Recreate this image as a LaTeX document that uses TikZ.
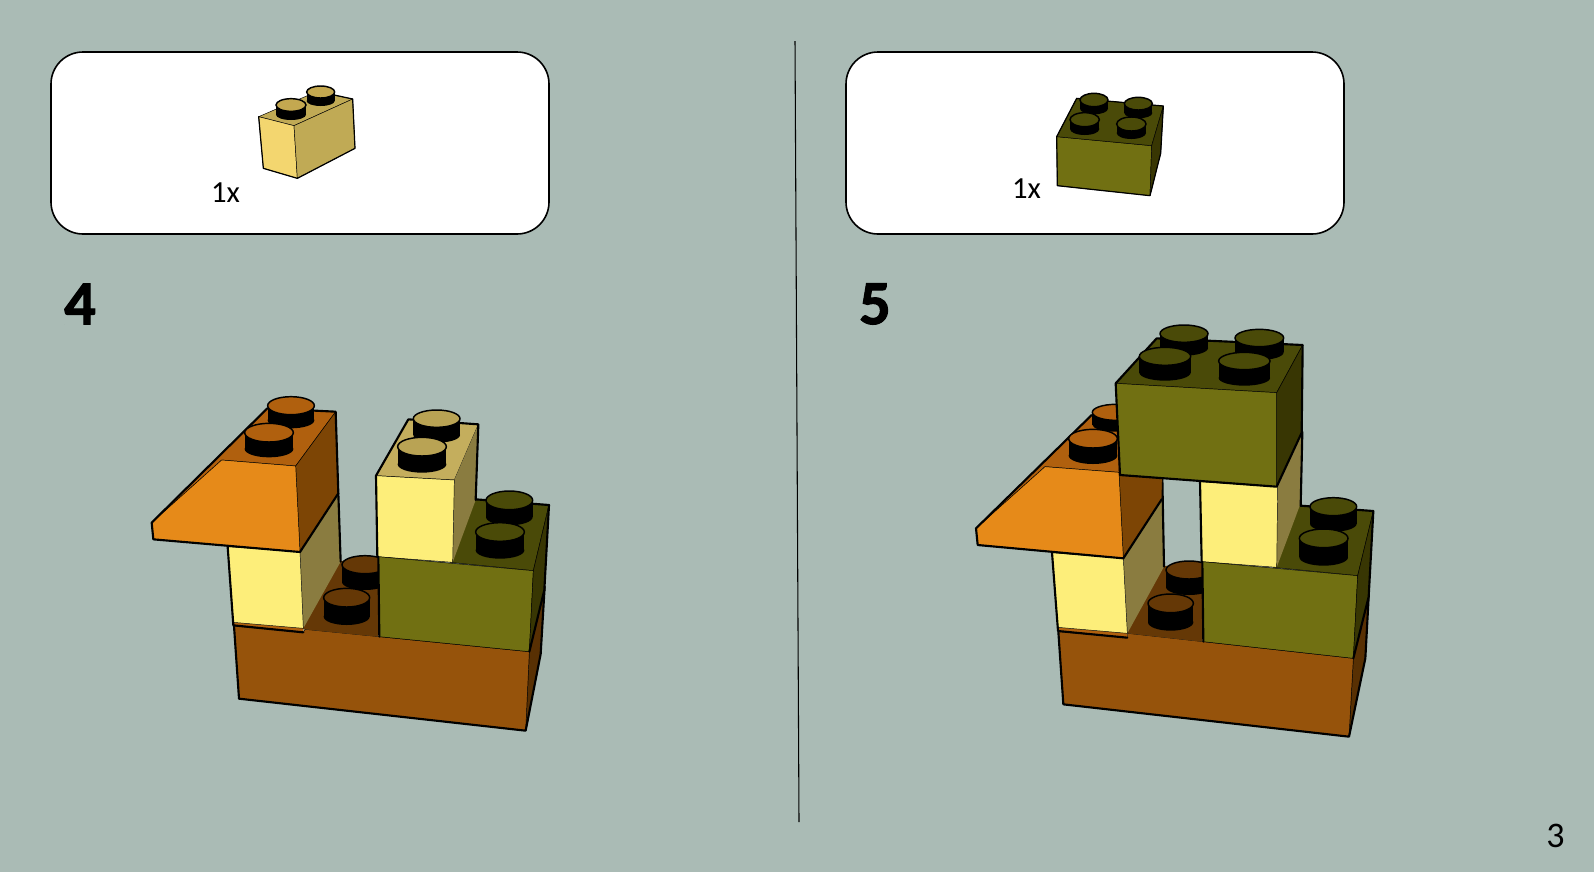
\documentclass[tikz,border=0pt]{standalone}
\usepackage{fontspec}
\setmainfont{Carlito}[BoldFeatures={FakeBold=1.6}]
\definecolor{bgc}{RGB}{170,187,181}
\definecolor{brF}{RGB}{150,83,11}
\definecolor{brS}{RGB}{88,48,3}
\definecolor{brT}{RGB}{101,56,6}
\definecolor{yeF}{RGB}{253,238,122}
\definecolor{yeS}{RGB}{138,124,64}
\definecolor{yeT}{RGB}{196,174,93}
\definecolor{yeD}{RGB}{185,163,84}
\definecolor{orF}{RGB}{230,138,25}
\definecolor{orT}{RGB}{176,96,14}
\definecolor{orS}{RGB}{125,69,5}
\definecolor{grF}{RGB}{113,112,18}
\definecolor{grT}{RGB}{74,74,8}
\definecolor{grS}{RGB}{56,54,3}
\definecolor{saF}{RGB}{243,214,111}
\definecolor{saS}{RGB}{192,170,85}
\definecolor{saD}{RGB}{196,168,80}
\tikzset{
  face/.style={draw=black,line width=.35pt,line join=round},
  edge/.style={draw=black,line width=1.6pt,line join=round,line cap=round},
  thinedge/.style={draw=black,line width=.9pt,line join=round,line cap=round},
  panel/.style={draw=black,line width=1.2pt,fill=white,rounded corners=24pt},
  bignum/.style={font=\fontsize{47}{47}\selectfont\bfseries,inner sep=0pt},
  count/.style={font=\fontsize{23}{23}\selectfont,inner sep=0pt},
}
% cx cy rx ry h colour: the top ellipse grows by 3 (in scope units) and the foot stays put
\newcommand{\stud}[6]{%
  \fill[black] ({#1-#3},{#2+3}) rectangle ({#1+#3},{#2+#5});
  \fill[black] (#1,{#2+#5}) circle [x radius=#3,y radius=#4];
  \draw[black,line width=1.1pt,fill=#6] (#1,{#2+3}) circle [x radius=#3,y radius={#4+3}];
}
\begin{document}
\begin{tikzpicture}[x=.75pt,y=-.75pt]
\useasboundingbox (0,0) rectangle (1594,872);
\fill[bgc] (0,0) rectangle (1594,872);
\draw[black,line width=.8pt] (795,41) -- (799,822);
\node[panel,minimum width=373.5pt,minimum height=136.5pt,inner sep=0pt] (p1) at (300,143) {};
\node[panel,minimum width=373.5pt,minimum height=136.5pt,inner sep=0pt] (p2) at (1095,143) {};
\node[count] (c1) at (225.5,193) {1x};
\node[count] (c2) at (1026.5,188.5) {1x};
\node[bignum] (n4) at (80,304) {4};
\node[bignum] (n5) at (875,304) {5};
\node[font=\fontsize{27}{27}\selectfont,inner sep=0pt] (pg) at (1555.5,836) {3};

% inset 1
\begin{scope}[shift={(40,40)},x=.25pt,y=-.25pt]
\draw[face,fill=saS] (656,230) -- (762,257) -- (938,177) -- (830,155) -- cycle;
\draw[face,fill=saF] (656,230) -- (670,385) -- (772,415) -- (762,257) -- cycle;
\draw[face,fill=saS] (762,257) -- (772,415) -- (945,325) -- (938,177) -- cycle;
\draw[thinedge] (656,230) -- (670,385) -- (772,415) -- (945,325) -- (938,177) -- (860,160);
\stud{842}{153}{42}{15}{30}{saD}
\stud{753}{192}{45}{16}{32}{saD}
\end{scope}

% inset 2
\begin{scope}[shift={(830,40)},x=.25pt,y=-.25pt]
\draw[face,fill=grF] (680,290) -- (682,437) -- (960,467) -- (965,317) -- cycle;
\draw[face,fill=grT] (680,290) -- (965,317) -- (1000,198) -- (740,175) -- cycle;
\draw[face,fill=grS] (965,317) -- (960,467) -- (992,340) -- (1000,198) -- cycle;
\draw[thinedge] (740,175) -- (680,290) -- (682,437) -- (960,467) -- (992,340) -- (1000,198) -- (740,175);
\stud{792}{177}{42}{17}{29}{grT}
\stud{925}{188}{42}{16}{31}{grT}
\stud{764}{236}{44}{18}{31}{grT}
\stud{904}{249}{44}{18}{30}{grT}
\end{scope}

% step 4 model
\begin{scope}[shift={(130,380)},x=.25pt,y=-.25pt]
\draw[face,fill=brS] (1198,815) -- (1187,1052) -- (1232,822) -- (1244,620) -- cycle;
\draw[face,fill=brF] (312,738) -- (327,956) -- (1187,1052) -- (1198,815) -- (748,770) -- (525,748) -- (520,757) -- cycle;
\fill[brT] (505,746) -- (745,770) -- (745,530) -- (620,545) -- cycle;
\draw[edge] (312,738) -- (327,956) -- (1187,1052) -- (1232,822) -- (1244,620);
\stud{705}{551}{69}{24}{55}{brT}
\stud{650}{650}{69}{25}{60}{brT}
\fill[orT] (310,727) -- (312,738) -- (520,757) -- (520,745) -- cycle;
\fill[yeS] (510,515) -- (520,745) -- (632,545) -- (625,340) -- cycle;
\draw[face,fill=yeF] (293,500) -- (310,727) -- (520,745) -- (510,515) -- cycle;
\draw[edge] (293,500) -- (310,736) -- (520,757);
\draw[edge] (625,340) -- (632,545);
\draw[face,fill=orT] (275,240) -- (497,258) -- (617,95) -- (412,85) -- (285,210) -- (65,428) -- cycle;
\draw[face,fill=orS] (497,258) -- (510,516) -- (625,340) -- (617,95) -- cycle;
\draw[face,fill=orF] (65,428) -- (70,478) -- (510,516) -- (497,258) -- (275,240) -- cycle;
\draw[edge] (412,85) -- (65,428) -- (70,478) -- (510,516) -- (625,340) -- (617,95) -- (412,85);
\stud{483}{74}{70}{24}{47}{orT}
\stud{417}{155}{73}{25}{52}{orT}
\draw[face,fill=grT] (960,547) -- (1210,572) -- (1257,375) -- (1030,358) -- cycle;
\draw[edge] (1037,358) -- (1257,375);
\stud{1138}{358}{70}{25}{53}{grT}
\stud{1110}{453}{73}{25}{58}{grT}
\draw[face,fill=yeT] (738,287) -- (973,300) -- (1045,133) -- (835,118) -- cycle;
\fill[yeS] (973,300) -- (968,547) -- (1037,360) -- (1045,133) -- cycle;
\draw[face,fill=yeF] (738,287) -- (742,530) -- (968,547) -- (973,300) -- cycle;
\draw[edge] (742,530) -- (738,287) -- (835,118) -- (1045,133) -- (1037,360);
\stud{920}{113}{70}{23}{52}{yeD}
\stud{876}{197}{73}{25}{56}{yeD}
\draw[face,fill=grF] (745,530) -- (748,770) -- (1198,815) -- (1210,572) -- cycle;
\draw[face,fill=grS] (1210,572) -- (1198,815) -- (1243,630) -- (1257,375) -- cycle;
\draw[edge] (745,530) -- (748,770);
\draw[edge] (1257,375) -- (1243,630) -- (1198,815);
\end{scope}

% step 5 model
\begin{scope}[shift={(960,310)},x=.25pt,y=-.25pt]
\draw[face,fill=brS] (1180,1045) -- (1167,1280) -- (1216,1045) -- (1226,860) -- cycle;
\draw[face,fill=brF] (295,965) -- (310,1183) -- (1167,1280) -- (1180,1045) -- (730,995) -- (503,970) -- (502,983) -- cycle;
\fill[brT] (485,968) -- (728,995) -- (725,755) -- (600,770) -- cycle;
\draw[edge] (295,965) -- (310,1183) -- (1167,1280) -- (1216,1045) -- (1226,860);
\stud{687}{777}{69}{24}{54}{brT}
\stud{632}{877}{68}{25}{60}{brT}
\fill[orT] (294,952) -- (295,965) -- (502,983) -- (502,970) -- cycle;
\fill[yeS] (490,745) -- (502,970) -- (612,770) -- (605,568) -- cycle;
\draw[face,fill=yeF] (276,728) -- (294,952) -- (502,970) -- (490,745) -- cycle;
\draw[edge] (276,728) -- (294,963) -- (502,983);
\draw[edge] (607,505) -- (612,770);
\draw[face,fill=orT] (255,470) -- (477,487) -- (480,280) -- (395,315) -- (48,655) -- cycle;
\draw[face,fill=orS] (477,495) -- (490,745) -- (605,568) -- (607,505) -- cycle;
\draw[face,fill=orF] (48,655) -- (53,705) -- (490,745) -- (477,487) -- (255,470) -- cycle;
\draw[edge] (395,315) -- (48,655) -- (53,705) -- (490,745) -- (605,568);
\stud{467}{304}{70}{21}{40}{orT}
\stud{399}{383}{73}{25}{54}{orT}
\draw[face,fill=grT] (940,772) -- (1193,797) -- (1240,603) -- (1012,587) -- cycle;
\draw[edge] (1022,587) -- (1240,603);
\stud{1120}{587}{70}{24}{54}{grT}
\stud{1091}{682}{73}{25}{60}{grT}
\fill[yeS] (953,530) -- (950,772) -- (1020,585) -- (1027,365) -- cycle;
\draw[face,fill=yeF] (720,515) -- (725,755) -- (950,772) -- (953,530) -- cycle;
\draw[edge] (720,515) -- (725,755);
\draw[edge] (1027,365) -- (1022,587);
\draw[face,fill=grF] (727,755) -- (730,995) -- (1180,1045) -- (1193,797) -- cycle;
\draw[face,fill=grS] (1193,797) -- (1180,1045) -- (1226,860) -- (1240,603) -- cycle;
\draw[edge] (727,755) -- (730,995);
\draw[edge] (1240,603) -- (1226,860) -- (1180,1045);
\draw[face,fill=grT] (467,220) -- (950,248) -- (1028,105) -- (590,85) -- cycle;
\draw[face,fill=grS] (950,248) -- (950,530) -- (1025,368) -- (1028,105) -- cycle;
\draw[face,fill=grF] (467,220) -- (480,495) -- (950,530) -- (950,248) -- cycle;
\draw[edge] (590,85) -- (467,220) -- (480,495) -- (950,530) -- (1025,368) -- (1028,105) -- (590,85);
\stud{672}{68}{72}{23}{46}{grT}
\stud{898}{81}{73}{23}{46}{grT}
\stud{615}{136}{77}{24}{52}{grT}
\stud{853}{150}{77}{23}{54}{grT}
\end{scope}
\end{tikzpicture}
\end{document}
